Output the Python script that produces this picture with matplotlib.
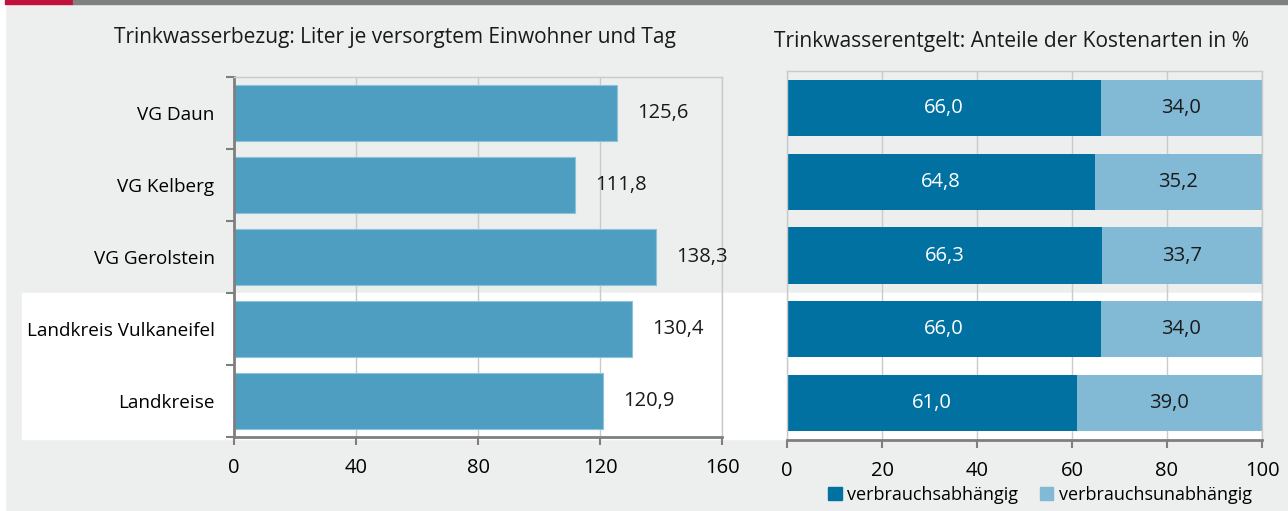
import matplotlib
matplotlib.use("Agg")
import matplotlib.pyplot as plt
from matplotlib.patches import Rectangle, Patch

plt.rcParams["font.family"] = ["Open Sans", "DejaVu Sans"]

# data
regions = ["VG Daun", "VG Kelberg", "VG Gerolstein", "Landkreis Vulkaneifel", "Landkreise"]
liters = [125.6, 111.8, 138.3, 130.4, 120.9]
share_dep = [66.0, 64.8, 66.3, 66.0, 61.0]
share_indep = [34.0, 35.2, 33.7, 34.0, 39.0]
legend_labels = ["verbrauchsabhängig", "verbrauchsunabhängig"]
left_ticks = [0, 40, 80, 120, 160]
right_ticks = [0, 20, 40, 60, 80, 100]

W, H = 1288, 511
BG = "#edeeee"
GRID = "#c9cbcb"
SPINE = "#7f7f7f"
C_BAR = "#4e9ec1"
C_DEP = "#0071a1"
C_IND = "#82b9d5"


def fx(px):
    return px / W


def fy(py):
    return 1 - py / H


def fmt(v):
    return f"{v:.1f}".replace(".", ",")


fig = plt.figure(figsize=(W / 100, H / 100), dpi=100, facecolor=BG)

# page decoration: white margin, top rule, white band behind the last two rows
deco = [
    ((0, 0), fx(5), 1, "white"),
    ((fx(5), fy(4.5)), fx(68), fy(0) - fy(4.5), "#c0103c"),
    ((fx(73), fy(4.5)), 1 - fx(73), fy(0) - fy(4.5), "#808080"),
    ((fx(22), fy(439)), fx(1262 - 22), fy(293) - fy(439), "white"),
]
for xy, w, h, c in deco:
    fig.patches.append(Rectangle(xy, w, h, transform=fig.transFigure,
                                 color=c, zorder=-10))

# left panel
ax1 = fig.add_axes([fx(234), fy(437), fx(722 - 234), fy(77) - fy(437)])
ax1.set_facecolor("none")
pos = list(range(len(regions)))
ax1.barh(pos, liters, height=0.78, color=C_BAR, edgecolor="#8cc2da", linewidth=0.8, zorder=2)
for p, v in zip(pos, liters):
    ax1.annotate(fmt(v), (v, p), xytext=(14.5, 0), textcoords="offset points",
                 ha="left", va="center", fontsize=14.5, color="#1a1a1a")
ax1.set_xlim(0, 160)
ax1.set_ylim(4.5, -0.5)
ax1.set_xticks(left_ticks)
ax1.set_xticklabels([str(t) for t in left_ticks])
ax1.set_yticks([i - 0.5 for i in range(len(regions) + 1)])
ax1.set_yticklabels([])
ax1.set_yticks(pos, minor=True)
ax1.set_yticklabels(regions, minor=True)
ax1.tick_params(axis="y", which="major", length=6, width=1.5, color=SPINE)
ax1.tick_params(axis="y", which="minor", length=0, pad=14, labelsize=13.6)
ax1.tick_params(axis="x", length=6, width=1.5, color=SPINE, pad=9, labelsize=14.5)
ax1.grid(axis="x", color=GRID, linewidth=1, zorder=1)
ax1.set_axisbelow(True)
for s in ["left", "bottom"]:
    ax1.spines[s].set_color(SPINE)
    ax1.spines[s].set_linewidth(2)
for s in ["top", "right"]:
    ax1.spines[s].set_color(GRID)
    ax1.spines[s].set_linewidth(1)
fig.text(fx(395), fy(37), "Trinkwasserbezug: Liter je versorgtem Einwohner und Tag",
         ha="center", va="center", fontsize=15, color="#1a1a1a")

# right panel
ax2 = fig.add_axes([fx(787), fy(440), fx(1262 - 787), fy(71) - fy(440)])
ax2.set_facecolor("none")
ax2.barh(pos, share_dep, height=0.76, color=C_DEP, zorder=2)
ax2.barh(pos, share_indep, left=share_dep, height=0.76, color=C_IND, zorder=2)
for p, a, b in zip(pos, share_dep, share_indep):
    ax2.text(a / 2, p, fmt(a), ha="center", va="center", fontsize=14.5, color="white")
    ax2.text(a + b / 2, p, fmt(b), ha="center", va="center", fontsize=14.5, color="#1a1a1a")
ax2.set_xlim(0, 100)
ax2.set_ylim(4.5, -0.5)
ax2.set_xticks(right_ticks)
ax2.set_xticklabels([str(t) for t in right_ticks])
ax2.set_yticks([])
ax2.tick_params(axis="x", length=6, width=1.5, color=SPINE, pad=9, labelsize=14.5)
ax2.grid(axis="x", color=GRID, linewidth=1, zorder=1)
ax2.set_axisbelow(True)
ax2.spines["bottom"].set_color(SPINE)
ax2.spines["bottom"].set_linewidth(2)
for s in ["top", "right", "left"]:
    ax2.spines[s].set_color(GRID)
    ax2.spines[s].set_linewidth(1)
fig.text(fx(1012), fy(41), "Trinkwasserentgelt: Anteile der Kostenarten in %",
         ha="center", va="center", fontsize=15.1, color="#1a1a1a")

handles = [Patch(color=C_DEP), Patch(color=C_IND)]
fig.legend(handles, legend_labels, loc="center", bbox_to_anchor=(fx(1040), fy(495)),
           ncol=2, frameon=False, fontsize=13, handlelength=0.75, handleheight=0.75,
           handletextpad=0.3, columnspacing=1.2, borderpad=0)

fig.savefig("out.png", dpi=100, facecolor=BG)
